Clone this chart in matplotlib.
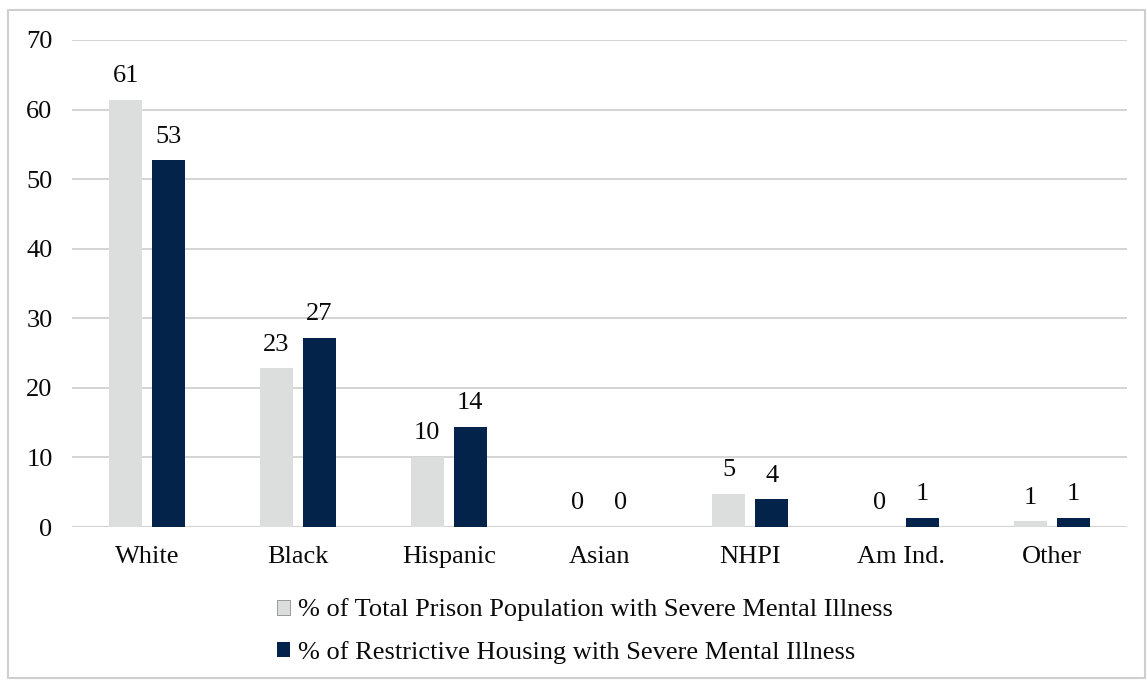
import matplotlib
matplotlib.use("Agg")
import matplotlib.pyplot as plt
from matplotlib.patches import Rectangle
import numpy as np

plt.rcParams['font.family'] = ['Liberation Serif', 'DejaVu Serif']

categories = ["White", "Black", "Hispanic", "Asian", "NHPI", "Am Ind.", "Other"]
total_pop_smi = [61.4, 22.8, 10.1, 0.0, 4.8, 0.0, 0.8]
restrictive_smi = [52.7, 27.2, 14.4, 0.0, 4.0, 1.3, 1.3]
series_names = ["% of Total Prison Population with Severe Mental Illness",
                "% of Restrictive Housing with Severe Mental Illness"]
y_ticks = [0, 10, 20, 30, 40, 50, 60, 70]

gray = "#dcdddd"
navy = "#03234b"
grid_c = "#d4d4d4"
txt_c = "#0a0a0a"
fs = 19

fig = plt.figure(figsize=(11.47, 6.81), dpi=100)
ax = fig.add_axes([72 / 1147, 1 - 527 / 681, 1055 / 1147, 487 / 681])

x = np.arange(len(categories))
w = 0.22
off = 0.143
b1 = ax.bar(x - off, total_pop_smi, w, color=gray, zorder=3, label=series_names[0])
b2 = ax.bar(x + off, restrictive_smi, w, color=navy, zorder=3, label=series_names[1])

for bars, vals in ((b1, total_pop_smi), (b2, restrictive_smi)):
    for rect, v in zip(bars, vals):
        ax.annotate(f"{v:.0f}", (rect.get_x() + rect.get_width() / 2, v),
                    xytext=(0, 17), textcoords="offset points",
                    ha="center", va="center", fontsize=fs, color=txt_c)

ax.set_xlim(-0.5, len(categories) - 0.5)
ax.set_ylim(0, 70)
ax.set_yticks(y_ticks)
ax.set_yticklabels([str(t) for t in y_ticks])
ax.set_xticks(x)
ax.set_xticklabels(categories)
ax.tick_params(axis="y", length=0, pad=14, labelsize=fs, colors=txt_c)
ax.tick_params(axis="x", length=0, pad=14, labelsize=fs, colors=txt_c)
ax.yaxis.grid(True, color=grid_c, linewidth=1.4, zorder=0)
ax.set_axisbelow(True)
for s in ax.spines.values():
    s.set_visible(False)
ax.axhline(0, color=grid_c, linewidth=1.6, zorder=2)

leg = fig.legend(handles=[b1, b2], loc="upper center",
                 bbox_to_anchor=(0.51, 1 - 580 / 681), ncol=1, frameon=False,
                 fontsize=fs, handlelength=0.5, handleheight=0.5,
                 handletextpad=0.3, labelspacing=0.75, borderpad=0.2)
for t in leg.get_texts():
    t.set_color(txt_c)
leg.legend_handles[0].set_edgecolor("#8a8a8a")
leg.legend_handles[0].set_linewidth(0.6)

# light outer frame around the chart area
fig.patches.append(Rectangle((8 / 1147, 3 / 681), 1137 / 1147, 668 / 681,
                             transform=fig.transFigure, fill=False,
                             edgecolor="#cfcfcf", linewidth=1.5))

fig.savefig("out.png", dpi=100, facecolor="white")
